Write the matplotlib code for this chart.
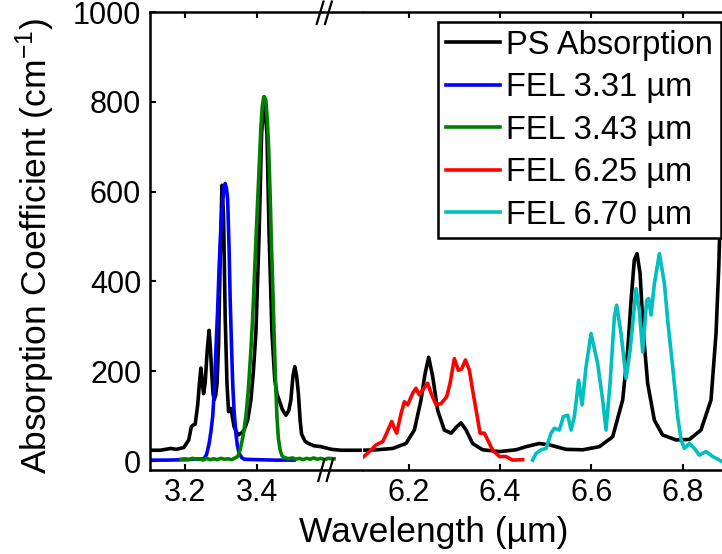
import matplotlib
matplotlib.use("Agg")
import matplotlib.pyplot as plt
from matplotlib.lines import Line2D

plt.rcParams['font.family'] = ['Liberation Sans', 'DejaVu Sans']
plt.rcParams['mathtext.fontset'] = 'custom'
plt.rcParams['mathtext.rm'] = 'Liberation Sans'
plt.rcParams['mathtext.default'] = 'regular'

# ---------------- data ----------------
ps_left_x = [3.100, 3.130, 3.160, 3.175, 3.196, 3.210, 3.217, 3.222, 3.228, 3.235, 3.240, 3.244,
             3.248, 3.2515, 3.256, 3.262, 3.267, 3.271, 3.274, 3.278, 3.281, 3.285, 3.289, 3.2935,
             3.298, 3.303, 3.3075, 3.312, 3.317, 3.3215, 3.328, 3.337, 3.348, 3.357, 3.365, 3.375,
             3.384, 3.391, 3.398, 3.407, 3.414, 3.421, 3.429, 3.435, 3.443, 3.451, 3.457, 3.463,
             3.472, 3.482, 3.490, 3.496, 3.502, 3.507, 3.512, 3.517, 3.522, 3.526, 3.535, 3.543,
             3.560, 3.580, 3.610, 3.636, 3.697]
ps_left_y = [24, 24, 28, 26, 30, 47, 76, 80, 82, 125, 175, 207,
             175, 150, 175, 250, 291, 245, 200, 150, 136, 145, 170, 260,
             450, 614, 544, 321, 173, 110, 117, 76, 58, 62, 69, 91,
             136, 200, 285, 507, 729, 811, 729, 507, 285, 180, 150, 136,
             115, 102, 112, 136, 190, 210, 190, 151, 90, 60, 45, 40,
             34, 32, 26, 24, 24]

fel331_x = [3.100, 3.150, 3.200, 3.253, 3.260, 3.267, 3.272, 3.277, 3.282, 3.286, 3.291, 3.295,
            3.300, 3.305, 3.309, 3.312, 3.316, 3.319, 3.323, 3.326, 3.330, 3.333, 3.337, 3.342,
            3.346, 3.351, 3.358, 3.365, 3.400, 3.450, 3.505]
fel331_y = [2, 2, 3, 5, 15, 39, 65, 99, 165, 247, 340, 432,
            520, 581, 612, 618, 605, 581, 470, 358, 250, 173, 110, 62,
            35, 17, 8, 4, 3, 2, 2]

fel343_x = [3.188, 3.200, 3.210, 3.220, 3.230, 3.240, 3.250, 3.260, 3.270, 3.280, 3.290, 3.300,
            3.310, 3.320, 3.330, 3.340, 3.347, 3.352, 3.356, 3.363, 3.370, 3.377, 3.384, 3.389,
            3.393, 3.398, 3.403, 3.408, 3.412, 3.416, 3.420, 3.423, 3.426, 3.430, 3.434, 3.438,
            3.442, 3.446, 3.449, 3.453, 3.457, 3.461, 3.466, 3.471, 3.477, 3.490, 3.500, 3.510,
            3.520, 3.530, 3.540, 3.550, 3.560, 3.570, 3.580, 3.590, 3.600, 3.617]
fel343_y = [4, 5, 3, 6, 4, 5, 2, 6, 3, 5, 3, 6,
            4, 5, 3, 7, 10, 20, 32, 60, 99, 160, 247, 320,
            395, 490, 581, 670, 744, 790, 811, 810, 803, 760, 692, 590,
            470, 370, 284, 180, 99, 50, 24, 12, 8, 5, 7, 4,
            6, 3, 6, 4, 7, 4, 6, 3, 6, 5]

ps_right_x = [6.0993, 6.130, 6.165, 6.194, 6.2125, 6.227, 6.236, 6.2438, 6.2526, 6.2635, 6.278,
              6.293, 6.305, 6.3147, 6.3257, 6.340, 6.362, 6.3986, 6.435, 6.457, 6.486, 6.508,
              6.5446, 6.581, 6.6176, 6.6467, 6.6686, 6.6796, 6.687, 6.694, 6.700, 6.7067, 6.714,
              6.7233, 6.738, 6.756, 6.7855, 6.8146, 6.840, 6.862, 6.873, 6.879, 6.883, 6.888]
ps_right_y = [24, 25, 28, 39, 69, 136, 195, 231, 188, 113, 69,
              62, 76, 85, 69, 39, 25, 21, 25, 32, 39, 36,
              26, 25, 32, 54, 136, 247, 358, 447, 462, 418, 284,
              173, 91, 58, 47, 48, 69, 136, 284, 432, 581, 900]

fel625_x = [6.0993, 6.114, 6.1286, 6.143, 6.1518, 6.1628, 6.1687, 6.1737, 6.1834, 6.1906, 6.1978,
            6.2088, 6.216, 6.2234, 6.2306, 6.2416, 6.249, 6.260, 6.271, 6.2832, 6.2906, 6.300,
            6.3088, 6.316, 6.3242, 6.333, 6.340, 6.3489, 6.3563, 6.3658, 6.375, 6.384, 6.3986,
            6.413, 6.4277, 6.4496]
fel625_y = [8, 21, 36, 43, 62, 88, 73, 62, 106, 132, 125,
            151, 162, 147, 158, 173, 151, 125, 128, 143, 173, 228,
            202, 205, 225, 202, 158, 106, 62, 62, 43, 24, 10,
            10, 2, 3]

fel670_x = [6.4715, 6.479, 6.490, 6.5008, 6.5118, 6.519, 6.530, 6.5387, 6.5482, 6.5556, 6.5628,
            6.5722, 6.5797, 6.5884, 6.5994, 6.6138, 6.6248, 6.6321, 6.641, 6.6504, 6.6554, 6.6651,
            6.676, 6.6848, 6.692, 6.698, 6.705, 6.7124, 6.7211, 6.7255, 6.7307, 6.738, 6.749,
            6.760, 6.7671, 6.778, 6.789, 6.7965, 6.8037, 6.8146, 6.8256, 6.8365, 6.8512, 6.8657,
            6.884]
fel670_y = [2, 17, 25, 28, 62, 73, 69, 99, 102, 69, 99,
            180, 125, 210, 284, 217, 136, 69, 173, 321, 347, 284,
            184, 247, 321, 384, 336, 243, 358, 362, 325, 395, 462,
            395, 314, 210, 99, 47, 28, 39, 28, 13, 21, 10,
            0]

labels = ['PS Absorption', 'FEL 3.31 \u00b5m', 'FEL 3.43 \u00b5m', 'FEL 6.25 \u00b5m', 'FEL 6.70 \u00b5m']
colors = ['black', '#0000FF', '#008000', '#FF0000', '#00BFBF']
yticks = [0, 200, 400, 600, 800, 1000]
left_xticks = [3.2, 3.4]
right_xticks = [6.2, 6.4, 6.6, 6.8]

# ---------------- figure ----------------
W, H = 722, 554
fig = plt.figure(figsize=(W / 100, H / 100), dpi=100)

axL = fig.add_axes([149.5 / W, 84 / H, 212 / W, 458 / H])
axR = fig.add_axes([363 / W, 84 / H, 359 / W, 458 / H])

lw = 2.6
axL.plot(ps_left_x, ps_left_y, color=colors[0], lw=lw)
axL.plot(fel331_x, fel331_y, color=colors[1], lw=lw)
axL.plot(fel343_x, fel343_y, color=colors[2], lw=lw)
axR.plot(ps_right_x, ps_right_y, color=colors[0], lw=lw)
axR.plot(fel625_x, fel625_y, color=colors[3], lw=lw)
axR.plot(fel670_x, fel670_y, color=colors[4], lw=lw)

axL.set_xlim(3.1, 3.1 + 212 / 357)
axR.set_xlim(6.1, 6.1 + 359 / 456.7)
for ax in (axL, axR):
    ax.set_ylim(-20, 1000)
    for s in ax.spines.values():
        s.set_linewidth(1.8)
    ax.tick_params(direction='in', length=4, width=1.5, top=True, labelsize=22, pad=6)

axL.set_xticks(left_xticks)
axR.set_xticks(right_xticks)
axL.set_xticklabels([f'{t:.1f}' for t in left_xticks])
axR.set_xticklabels([f'{t:.1f}' for t in right_xticks])
axL.set_yticks(yticks)
axL.set_yticklabels([str(t) for t in yticks])
axL.spines['right'].set_visible(False)
axR.spines['left'].set_visible(False)
axR.spines['right'].set_visible(False)
axR.tick_params(axis='y', left=False, right=False, labelleft=False)

axL.set_ylabel('Absorption Coefficient (cm$^{-1}$)', fontsize=25.5)
axL.yaxis.set_label_coords(-0.435, 0.49)
fig.text(434 / W, 12.3 / H, 'Wavelength (\u00b5m)', fontsize=25.5, ha='center', va='baseline')

# break marks "//"
def px(x, y):
    return x / W, 1 - y / H

for (x0, y0, x1, y1) in [(316.7, 24, 323.5, 1.5), (325, 24, 331.8, 1.5),
                         (318.3, 481, 324.5, 459), (326.7, 481, 333, 459)]:
    a, b = px(x0, y0)
    c, d = px(x1, y1)
    fig.add_artist(Line2D([a, c], [b, d], transform=fig.transFigure, color='black', lw=1.6))

handles = [Line2D([], [], color=c, lw=lw) for c in colors]
leg = fig.legend(handles, labels, loc='upper right', bbox_to_anchor=(721 / W, 1 - 22 / H),
                 bbox_transform=fig.transFigure, borderaxespad=0, fontsize=23.5,
                 frameon=True, fancybox=False, framealpha=1, edgecolor='black',
                 handlelength=1.65, handletextpad=0.2, labelspacing=0.35, borderpad=0.24)
leg.get_frame().set_linewidth(1.8)

fig.savefig('out.png', dpi=100)
